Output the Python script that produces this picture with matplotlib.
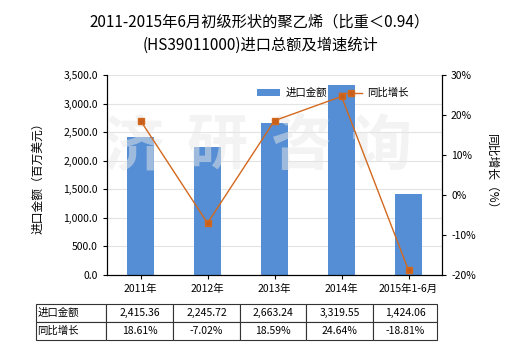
import matplotlib
matplotlib.use("Agg")
import matplotlib.pyplot as plt
import matplotlib.ticker as ticker

plt.rcParams['font.family'] = ['Noto Sans CJK SC', 'DejaVu Sans']

years = ['2011年', '2012年', '2013年', '2014年', '2015年1-6月']
amount = [2415.36, 2245.72, 2663.24, 3319.55, 1424.06]
growth = [18.61, -7.02, 18.59, 24.64, -18.81]
amount_labels = ['2,415.36', '2,245.72', '2,663.24', '3,319.55', '1,424.06']
growth_labels = ['18.61%', '-7.02%', '18.59%', '24.64%', '-18.81%']

bar_color = '#558ED5'
line_color = '#D2691E'

fig = plt.figure(figsize=(5.2, 3.5), dpi=100)
ax = fig.add_axes([107/520, 1-275/350, 335/520, 200/350])
ax2 = ax.twinx()

x = list(range(len(years)))
ax.bar(x, amount, width=0.4, color=bar_color, zorder=2, label='进口金额')
ax.set_xlim(-0.5, len(years)-0.5)
ax.set_ylim(0, 3500)
ax.yaxis.set_major_locator(ticker.MultipleLocator(500))
ax.yaxis.set_major_formatter(ticker.FuncFormatter(lambda v, p: f'{v:,.1f}'))
ax.grid(axis='y', color='#e3e3e3', linewidth=0.8, zorder=0)
ax.set_axisbelow(True)
ax.set_xticks(x)
ax.set_xticklabels(years)
ax.tick_params(labelsize=7.5, length=3, width=0.8)
ax.set_ylabel('进口金额（百万美元）', fontsize=8.5, labelpad=14)

# watermark
for xs, ch in zip([0.075, 0.33, 0.58, 0.82], '济研咨询'):
    ax.text(xs, 0.64, ch, transform=ax.transAxes, fontsize=44, fontweight='bold',
            color='#e8e8e8', alpha=0.5, ha='center', va='center', zorder=3, clip_on=True)

ax2.plot(x, growth, color=line_color, linewidth=1, marker='s', markersize=4,
         markerfacecolor='#C8601C', markeredgecolor=line_color, zorder=4, label='同比增长')
ax2.set_ylim(-20, 30)
ax2.yaxis.set_major_locator(ticker.MultipleLocator(10))
ax2.yaxis.set_major_formatter(ticker.FuncFormatter(lambda v, p: f'{v:.0f}%'))
ax2.tick_params(labelsize=7.5, length=3, width=0.8)
ax2.set_ylabel('同比增长（%）', fontsize=8.5, rotation=270, labelpad=16)

for a in (ax, ax2):
    a.spines['top'].set_visible(False)
    for s in ('left', 'right', 'bottom'):
        a.spines[s].set_linewidth(0.8)

h1, l1 = ax.get_legend_handles_labels()
h2, l2 = ax2.get_legend_handles_labels()
ax2.legend(h1 + h2, l1 + l2, ncol=2, frameon=False, fontsize=7.5,
           loc='center left', bbox_to_anchor=(0.42, 0.91), handlelength=2.2,
           columnspacing=1.2, handletextpad=0.5)

# title
fig.text(0.5, 1-22/350, '2011-2015年6月初级形状的聚乙烯（比重＜0.94）', ha='center', va='center', fontsize=11)
fig.text(0.5, 1-45/350, '(HS39011000)进口总额及增速统计', ha='center', va='center', fontsize=11)

# data table
cells = [['进口金额'] + amount_labels, ['同比增长'] + growth_labels]
widths = [70, 67, 67, 66, 67, 64]
tot = sum(widths)
tbl = ax.table(cellText=cells, cellLoc='center',
               colWidths=[w / tot for w in widths],
               bbox=[(36-107)/335, (275-340)/200, 401/335, 36/200])
tbl.auto_set_font_size(False)
tbl.set_fontsize(7.5)
for (r, c), cell in tbl.get_celld().items():
    cell.set_linewidth(0.8)
    cell.set_edgecolor('#333333')
    if c == 0:
        cell.set_text_props(ha='left')
        cell.PAD = 0.02

fig.savefig('out.png', dpi=100)
